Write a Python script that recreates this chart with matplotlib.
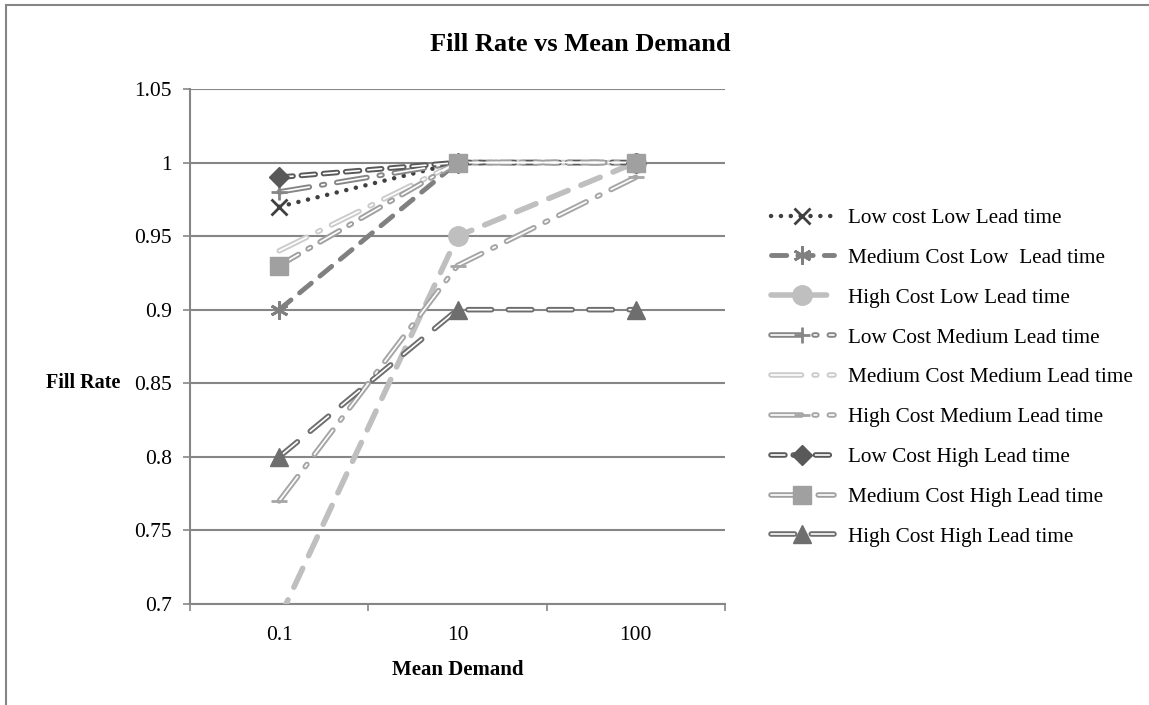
import matplotlib.pyplot as plt
import matplotlib.patches as mpatches
from matplotlib.legend_handler import HandlerTuple

plt.rcParams["font.family"] = ["Liberation Serif", "DejaVu Serif"]
plt.rcParams["lines.scale_dashes"] = False

demand = ["0.1", "10", "100"]
series_names = [
    "Low cost Low Lead time",
    "Medium Cost Low  Lead time",
    "High Cost Low Lead time",
    "Low Cost Medium Lead time",
    "Medium Cost Medium Lead time",
    "High Cost Medium Lead time",
    "Low Cost High Lead time",
    "Medium Cost High Lead time",
    "High Cost High Lead time",
]
low_low = [0.97, 1.0, 1.0]
med_low = [0.90, 1.0, 1.0]
high_low = [0.69, 0.95, 1.0]
low_med = [0.98, 1.0, 1.0]
med_med = [0.94, 1.0, 1.0]
high_med = [0.77, 0.93, 0.99]
low_high = [0.99, 1.0, 1.0]
med_high = [0.93, 1.0, 1.0]
high_high = [0.80, 0.90, 0.90]
values = [low_low, med_low, high_low, low_med, med_med, high_med, low_high, med_high, high_high]

# style per series: color, dashes, linewidth, compound, marker, markersize
styles = [
    ("#404040", (0.1, 7), 3.2, False, "x", 11),
    ("#808080", (11, 8), 3.5, False, (6, 2, 0), 13),
    ("#bfbfbf", (15, 10), 4.0, False, "o", 14),
    ("#868686", (22, 9, 2, 9), 4.0, True, "+", 12),
    ("#cccccc", (22, 9, 2, 9), 4.0, True, None, 10),
    ("#a6a6a6", (22, 9, 2, 9), 4.0, True, "_", 12),
    ("#595959", (10, 6), 4.0, True, "D", 10),
    ("#a0a0a0", (16, 8, 2, 8), 4.0, True, "s", 13),
    ("#6e6e6e", (17, 12), 4.0, True, "^", 13),
]

fig = plt.figure(figsize=(11.49, 7.05), dpi=100)
ax = fig.add_axes([0.1654, 0.1433, 0.4656, 0.7305])
x = list(range(len(demand)))

handles = []
for name, vals, (col, dash, lw, compound, mk, ms) in zip(series_names, values, styles):
    main, = ax.plot(x, vals, color=col, lw=lw, dashes=dash,
                    dash_capstyle="round", solid_capstyle="round", zorder=3)
    parts = [main]
    if compound:
        inner, = ax.plot(x, vals, color="white", lw=1.2, dashes=dash,
                         dash_capstyle="round", zorder=3.1)
        parts.append(inner)
    if mk is not None:
        mw = 2 if mk in ("x", "+", "_", (6, 2, 0)) else 1
        mark, = ax.plot(x, vals, ls="none", marker=mk, markersize=ms, color=col,
                        markeredgecolor=col, markeredgewidth=mw, zorder=3.2)
        parts.append(mark)
    handles.append(tuple(parts))

ax.set_xlim(-0.5, 2.5)
ax.set_ylim(0.7, 1.05)
ax.set_yticks([0.7, 0.75, 0.8, 0.85, 0.9, 0.95, 1.0, 1.05])
ax.set_yticklabels(["0.7", "0.75", "0.8", "0.85", "0.9", "0.95", "1", "1.05"])
ax.set_xticks(x)
ax.set_xticklabels(demand)
ax.set_xticks([-0.5, 0.5, 1.5, 2.5], minor=True)
ax.tick_params(axis="x", which="major", length=0, labelsize=15.5, pad=16)
ax.tick_params(axis="x", which="minor", length=5, color="#868686", width=1.2)
ax.tick_params(axis="y", length=5, color="#868686", width=1.2, labelsize=15.5, pad=8)
ax.grid(axis="y", color="#868686", lw=1.5, zorder=1)
for side in ["top", "right"]:
    ax.spines[side].set_visible(False)
for side in ["left", "bottom"]:
    ax.spines[side].set_color("#868686")
    ax.spines[side].set_linewidth(1.5)

fig.text(0.505, 0.937, "Fill Rate vs Mean Demand", ha="center", va="center",
         fontsize=19, fontweight="bold")
fig.text(0.072, 0.457, "Fill Rate", ha="center", va="center", fontsize=14.5, fontweight="bold")
fig.text(0.398, 0.05, "Mean Demand", ha="center", va="center", fontsize=15, fontweight="bold")

fig.legend(handles, series_names, handler_map={tuple: HandlerTuple(ndivide=1)},
           loc="center left", bbox_to_anchor=(0.654, 0.4645), frameon=False,
           fontsize=15.3, handlelength=3.0, labelspacing=0.94, handletextpad=0.66)

fig.patches.append(mpatches.Rectangle((0.005, -0.02), 1.2, 1.013, transform=fig.transFigure,
                                      fill=False, edgecolor="#868686", lw=1.5))

fig.savefig("out.png", dpi=100)
